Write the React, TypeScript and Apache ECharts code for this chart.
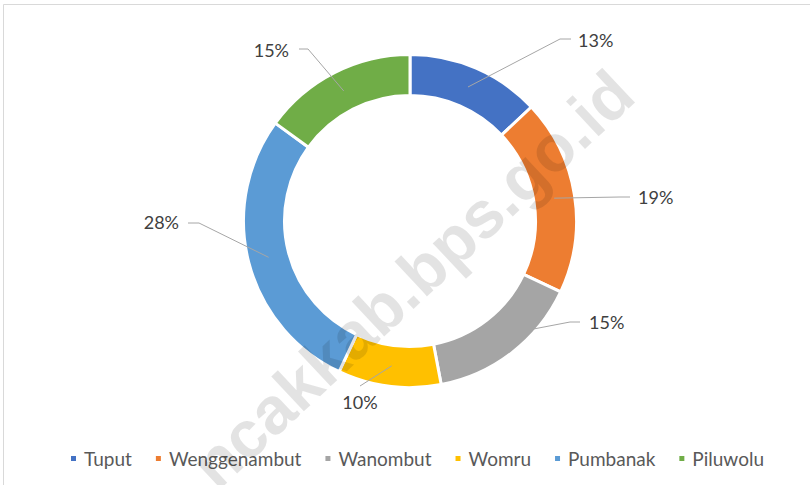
import React, { useEffect, useRef } from "react";
import * as echarts from "echarts";

const categories = ["Tuput", "Wenggenambut", "Wanombut", "Womru", "Pumbanak", "Piluwolu"];
const shares = [13, 19, 15, 10, 28, 15];
const colors = ["#4472C4", "#ED7D31", "#A5A5A5", "#FFC000", "#5B9BD5", "#70AD47"];

// layout of the data labels (text anchor, elbow, end of leader line)
const labelLayoutSpec = [
  { tx: 578, ty: 40, align: "left", va: "middle", elbow: [560, 39], end: [571, 39], r: 146, da: 0 },
  { tx: 638, ty: 197, align: "left", va: "middle", elbow: [620, 197], end: [630, 197], r: 146, da: 0 },
  { tx: 589, ty: 322, align: "left", va: "middle", elbow: [570, 322], end: [580, 322], r: 164, da: -11 },
  { tx: 360, ty: 393, align: "center", va: "top", elbow: [360, 386], end: [360, 386], r: 146, da: 0 },
  { tx: 179, ty: 222, align: "right", va: "middle", elbow: [199, 223], end: [188, 223], r: 146, da: 0 },
  { tx: 289, ty: 50, align: "right", va: "middle", elbow: [308, 49], end: [299, 49], r: 146, da: 0 },
];

const CX = 410;
const CY = 221;

export default function App() {
  const ref = useRef<HTMLDivElement>(null);
  useEffect(() => {
    if (!ref.current) return;
    const chart = echarts.init(ref.current, null, { renderer: "svg" });
    const total = shares.reduce((a, b) => a + b, 0);
    const mids: number[] = [];
    let acc = 0;
    shares.forEach((v) => {
      mids.push(((acc + v / 2) / total) * 360);
      acc += v;
    });
    const leaderLines = labelLayoutSpec.map((s, i) => {
      const a = ((mids[i] + s.da) * Math.PI) / 180;
      const p0 = [CX + s.r * Math.sin(a), CY - s.r * Math.cos(a)];
      return {
        type: "polyline",
        silent: true,
        z: 50,
        shape: { points: [p0, s.elbow, s.end] },
        style: { fill: "none", stroke: "#a6a6a6", lineWidth: 1 },
      };
    });
    chart.setOption({
      animation: false,
      backgroundColor: "#ffffff",
      color: colors,
      legend: {
        data: categories,
        left: 69,
        top: 449,
        padding: 0,
        icon: "rect",
        itemWidth: 7,
        itemHeight: 7,
        itemGap: 22,
        textStyle: { fontFamily: "Lato", fontSize: 19, color: "#595959", padding: [0, 0, 0, 2] },
      },
      graphic: [
        {
          type: "rect",
          silent: true,
          shape: { x: 3.5, y: 4.5, width: 900, height: 900 },
          style: { fill: "none", stroke: "#d9d9d9", lineWidth: 1 },
          z: 0,
        },
        ...leaderLines,
        {
          type: "text",
          silent: true,
          x: 412,
          y: 279,
          rotation: (43 * Math.PI) / 180,
          z: 100,
          style: {
            text: "ncakkab.bps.go.id",
            font: 'bold 66px "Liberation Sans", Arial, sans-serif',
            fill: "rgba(0,0,0,0.11)",
            align: "center",
            verticalAlign: "middle",
          },
        },
      ],
      series: [
        {
          type: "pie",
          center: [CX, CY],
          radius: [125.5, 166.5],
          startAngle: 90,
          clockwise: true,
          avoidLabelOverlap: false,
          itemStyle: { borderColor: "#ffffff", borderWidth: 3 },
          label: {
            show: true,
            position: "outside",
            formatter: "{c}%",
            fontFamily: "Lato",
            fontSize: 18,
            color: "#404040",
          },
          labelLine: { show: false },
          labelLayout: (params: any) => {
            const s = labelLayoutSpec[params.dataIndex];
            return { x: s.tx, y: s.ty, align: s.align, verticalAlign: s.va };
          },
          emphasis: { disabled: true },
          data: categories.map((name, i) => ({ name, value: shares[i] })),
        },
      ],
    });
    return () => chart.dispose();
  }, []);
  return (
    <div
      ref={ref}
      style={{ position: "absolute", left: 0, top: 0, width: 810, height: 485 }}
    />
  );
}
